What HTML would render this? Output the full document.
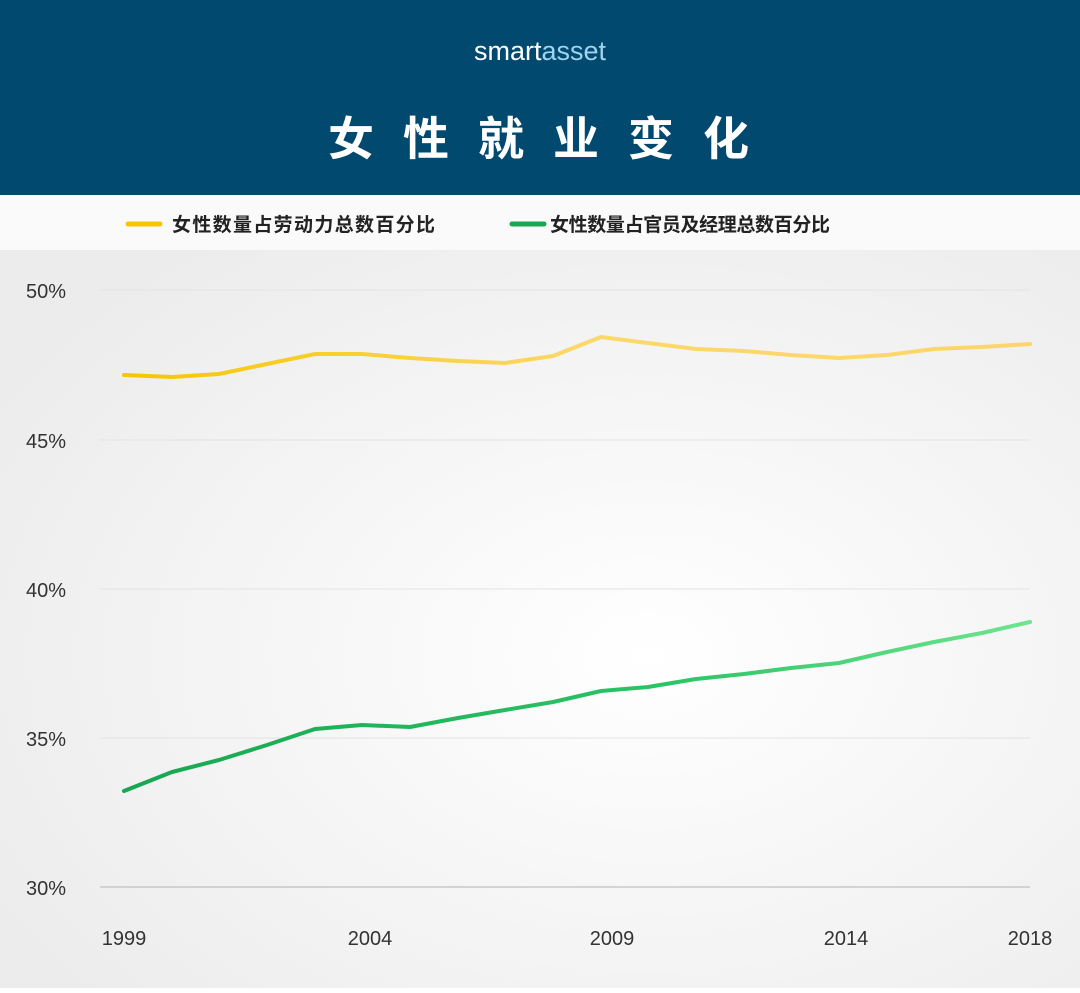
<!DOCTYPE html>
<html><head><meta charset="utf-8"><style>
body{margin:0;width:1080px;height:988px;overflow:hidden;background:#fff;font-family:"Liberation Sans","Noto Sans CJK SC",sans-serif;}
</style></head><body>
<svg width="1080" height="988" xmlns="http://www.w3.org/2000/svg">
<defs>
<radialGradient id="bg" cx="0.6" cy="0.55" r="0.7">
<stop offset="0" stop-color="#ffffff"/><stop offset="1" stop-color="#ececec"/></radialGradient>
<linearGradient id="yg" x1="124" y1="0" x2="1030" y2="0" gradientUnits="userSpaceOnUse">
<stop offset="0" stop-color="#f7c600"/><stop offset="0.5" stop-color="#fbd868"/><stop offset="1" stop-color="#fcd66a"/></linearGradient>
<linearGradient id="gg" x1="124" y1="0" x2="1030" y2="0" gradientUnits="userSpaceOnUse">
<stop offset="0" stop-color="#17a652"/><stop offset="0.6" stop-color="#2cc466"/><stop offset="1" stop-color="#6ee58e"/></linearGradient>
</defs>
<rect x="0" y="0" width="1080" height="195" fill="#02496f"/>
<text x="540" y="60" text-anchor="middle" font-size="27" fill="#fff" font-family="Liberation Sans, sans-serif"><tspan fill="#fff">smart</tspan><tspan fill="#9fd3ee">asset</tspan></text>
<text x="553" y="155" text-anchor="middle" font-size="46" font-weight="bold" fill="#fff" letter-spacing="29">女性就业变化</text>
<rect x="0" y="195" width="1080" height="55" fill="#fafafa"/>
<line x1="128" y1="224" x2="160" y2="224" stroke="#f7c600" stroke-width="5" stroke-linecap="round"/>
<text x="172" y="231" font-size="19" font-weight="bold" fill="#222" textLength="263">女性数量占劳动力总数百分比</text>
<line x1="512" y1="224" x2="544" y2="224" stroke="#17a652" stroke-width="5" stroke-linecap="round"/>
<text x="550" y="231" font-size="19" font-weight="bold" fill="#222" textLength="280">女性数量占官员及经理总数百分比</text>
<rect x="0" y="250" width="1080" height="738" fill="url(#bg)"/>
<g stroke="#e3e3e3" stroke-width="1">
<line x1="100" y1="290" x2="1030" y2="290"/><line x1="100" y1="440" x2="1030" y2="440"/>
<line x1="100" y1="589" x2="1030" y2="589"/><line x1="100" y1="738" x2="1030" y2="738"/></g>
<line x1="100" y1="887" x2="1030" y2="887" stroke="#c8c8c8" stroke-width="1.5"/>
<g font-size="20" fill="#333" font-family="Liberation Sans, sans-serif">
<text x="26" y="298">50%</text><text x="26" y="448">45%</text><text x="26" y="597">40%</text>
<text x="26" y="746">35%</text><text x="26" y="895">30%</text>
<text x="124" y="945" text-anchor="middle">1999</text><text x="370" y="945" text-anchor="middle">2004</text>
<text x="612" y="945" text-anchor="middle">2009</text><text x="846" y="945" text-anchor="middle">2014</text>
<text x="1030" y="945" text-anchor="middle">2018</text></g>
<polyline fill="none" stroke="url(#yg)" stroke-width="4" stroke-linejoin="round" stroke-linecap="round"
points="124,375 172,377 219,374 267,364 315,354 362,354 410,358 458,361 505,363 553,356 601,337 648,343 696,349 744,351 791,355 839,358 887,355 934,349 982,347 1030,344"/>
<polyline fill="none" stroke="url(#gg)" stroke-width="4" stroke-linejoin="round" stroke-linecap="round"
points="124,791 172,772 219,760 267,745 315,729 362,725 410,727 458,718 505,710 553,702 601,691 648,687 696,679 744,674 791,668 839,663 887,652 934,642 982,633 1030,622"/>
</svg>
</body></html>
